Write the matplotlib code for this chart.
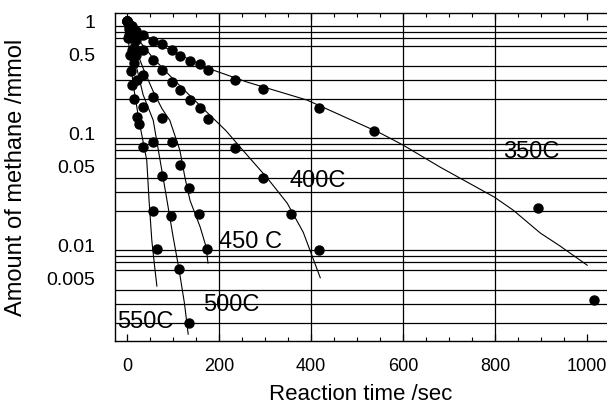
import numpy as np
import matplotlib
matplotlib.use("Agg")
import matplotlib.pyplot as plt
from matplotlib.ticker import LogLocator, FixedLocator, NullFormatter, MultipleLocator

plt.rcParams['font.family'] = ['Liberation Sans', 'DejaVu Sans']

# ---- data ----
t350 = [0, 5, 10, 20, 35, 56, 76, 98, 115, 137, 159, 176, 235, 296, 417, 537, 893, 1015]
y350 = [1.0, 0.95, 0.9, 0.82, 0.75, 0.66, 0.62, 0.55, 0.49, 0.44, 0.41, 0.365, 0.30, 0.247, 0.167, 0.104, 0.0214, 0.0032]
t350_fit = [0, 35, 76, 115, 187, 261, 391, 463, 550, 600, 680, 739, 798, 839, 898, 941, 1000]
y350_fit = [1.0, 0.77, 0.6, 0.497, 0.365, 0.285, 0.197, 0.145, 0.100, 0.078, 0.0497, 0.0365, 0.0268, 0.0205, 0.0128, 0.0098, 0.0066]

t400 = [0, 5, 10, 20, 35, 56, 76, 98, 115, 137, 159, 176, 235, 296, 357, 417]
y400 = [1.0, 0.9, 0.8, 0.68, 0.55, 0.45, 0.365, 0.285, 0.242, 0.197, 0.167, 0.133, 0.073, 0.040, 0.0189, 0.0090]
t400_fit = [0, 20, 56, 98, 137, 176, 215, 252, 304, 348, 383, 420]
y400_fit = [1.0, 0.72, 0.47, 0.31, 0.215, 0.15, 0.105, 0.07, 0.040, 0.0237, 0.013, 0.0051]

t450 = [0, 5, 10, 15, 20, 35, 56, 76, 98, 115, 135, 157, 174]
y450 = [1.0, 0.85, 0.7, 0.58, 0.5, 0.33, 0.21, 0.136, 0.083, 0.052, 0.032, 0.0189, 0.0092]
t450_fit = [0, 15, 35, 56, 76, 93, 115, 126, 137, 159, 172, 176]
y450_fit = [1.0, 0.62, 0.38, 0.24, 0.165, 0.13, 0.07, 0.04, 0.025, 0.0145, 0.0096, 0.0069]

t500 = [0, 5, 10, 15, 22, 35, 56, 76, 96, 113, 135]
y500 = [1.0, 0.75, 0.55, 0.42, 0.3, 0.17, 0.083, 0.041, 0.018, 0.0061, 0.0020]
t500_fit = [0, 10, 20, 35, 57, 72, 87, 100, 113, 125, 133]
y500_fit = [1.0, 0.6, 0.4, 0.22, 0.13, 0.057, 0.025, 0.012, 0.0061, 0.003, 0.0016]

t550 = [0, 3, 6, 9, 12, 16, 22, 26, 35, 56, 65]
y550 = [1.0, 0.7, 0.5, 0.36, 0.27, 0.2, 0.14, 0.12, 0.075, 0.020, 0.0092]
t550_fit = [0, 5, 13, 26, 43, 48, 54, 60, 65]
y550_fit = [1.0, 0.55, 0.28, 0.13, 0.057, 0.025, 0.011, 0.0065, 0.0043]

series_labels = ["350C", "400C", "450 C", "500C", "550C"]
label_pos_t = [817, 354, 200, 165, -22]
label_pos_y = [0.0677, 0.0373, 0.0106, 0.0029, 0.00205]

x_ticks = [0, 200, 400, 600, 800, 1000]
x_grid = [200, 400, 600, 800]
y_ticks = [1, 0.5, 0.1, 0.05, 0.01, 0.005]
y_ticklabels = ["1", "0.5", "0.1", "0.05", "0.01", "0.005"]

# ---- figure ----
fig = plt.figure(figsize=(6.07, 4.08), dpi=100)
ax = fig.add_axes([115 / 607, 1 - 341 / 408, 1 - 115 / 607, (341 - 13) / 408])
ax.set_yscale('log')
ax.set_xlim(-26, 1043)
ax.set_ylim(0.00139, 1.179)

# grid
ax.yaxis.set_minor_locator(LogLocator(base=10, subs=np.arange(1, 10), numticks=20))
ax.yaxis.set_minor_formatter(NullFormatter())
ax.yaxis.set_major_locator(FixedLocator(y_ticks))
ax.set_yticklabels(y_ticklabels)
ax.grid(which='minor', axis='y', color='black', linewidth=0.9)
for gx in x_grid:
    ax.axvline(gx, color='black', linewidth=0.9, zorder=1)

ax.set_xticks(x_ticks)
ax.xaxis.set_minor_locator(MultipleLocator(50))
ax.tick_params(axis='y', which='both', length=0, labelsize=14, pad=14)
ax.tick_params(axis='x', which='major', direction='in', length=5, top=True,
               labelsize=13, pad=12, width=0.9)
ax.tick_params(axis='x', which='minor', direction='in', length=3, top=True, width=0.8)

for s in ['left', 'bottom', 'top']:
    ax.spines[s].set_linewidth(1.0)
ax.spines['right'].set_visible(False)

all_series = [(t350, y350, t350_fit, y350_fit),
              (t400, y400, t400_fit, y400_fit),
              (t450, y450, t450_fit, y450_fit),
              (t500, y500, t500_fit, y500_fit),
              (t550, y550, t550_fit, y550_fit)]
for t, y, tf, yf in all_series:
    ax.plot(tf, yf, color='black', linewidth=0.8, zorder=3)
    ax.plot(t, y, 'o', color='black', markersize=6.5, zorder=4)

for lab, lx, ly in zip(series_labels, label_pos_t, label_pos_y):
    ax.text(lx, ly, lab, fontsize=17, ha='left', va='center', color='black', zorder=5)

ax.set_xlabel("Reaction time /sec", fontsize=16, labelpad=7)
ax.set_ylabel("Amount of methane /mmol", fontsize=17, labelpad=14)

fig.savefig("out.png", dpi=100)
